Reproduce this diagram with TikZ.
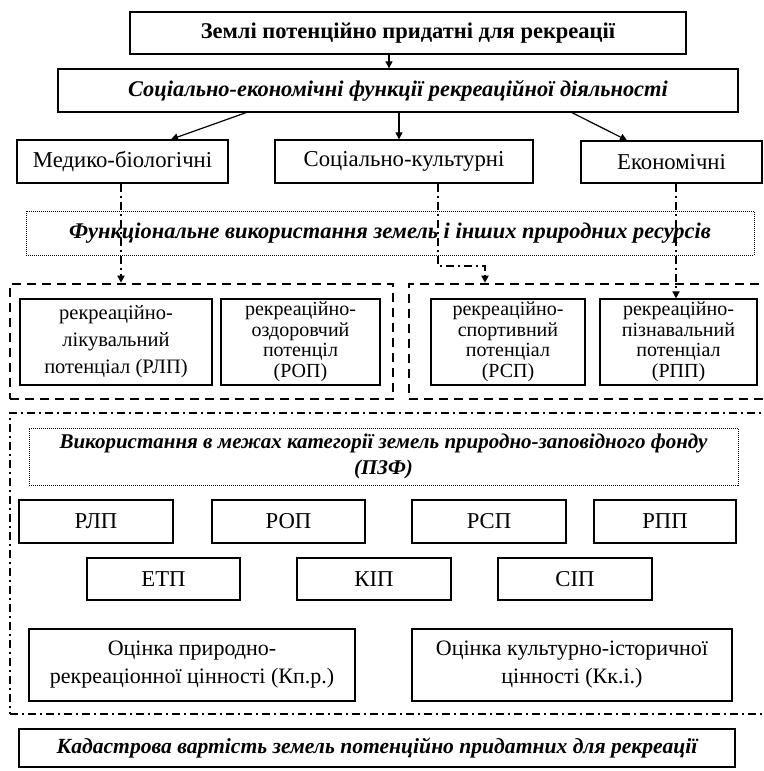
\documentclass[tikz,border=0pt]{standalone}
\usepackage{fontspec}
\setmainfont{Liberation Serif}
\usetikzlibrary{arrows.meta}

\begin{document}
\begin{tikzpicture}[x=1pt, y=-1pt,
  every node/.style={font=\fontsize{22.7}{28}\selectfont, align=center, inner sep=0pt},
  box/.style={draw, line width=1.3pt, minimum height=43pt},
  dotbox/.style={draw, line width=0.8pt, dash pattern=on 1pt off 1pt, minimum height=44pt},
  dashgrp/.style={draw, line width=2.6pt, dash pattern=on 9pt off 6pt},
  dotdashgrp/.style={draw, line width=2.2pt, dash pattern=on 8pt off 4pt on 2pt off 4pt},
  titlefont/.style={font=\fontsize{22.5}{26}\selectfont\bfseries},
  headfont/.style={font=\fontsize{22.4}{26}\selectfont\bfseries\itshape},
  potfont/.style={font=\fontsize{20.5}{27}\selectfont},
  tightfont/.style={font=\fontsize{20}{20.5}\selectfont},
  arr/.style={-{Triangle[length=7pt, width=7pt]}, line width=1.2pt},
  flow/.style={-{Triangle[length=7pt, width=7pt]}, line width=2pt, dash pattern=on 8pt off 4pt on 2pt off 4pt}]
\useasboundingbox (0,0) rectangle (763,771);
\clip (0,0) rectangle (763,771);
% functions
\node[box, titlefont, minimum width=556pt, minimum height=42pt] (land) at (408,33) {Землі потенційно придатні для рекреації};
\node[box, headfont, minimum width=680pt] (func) at (398,90.5) {Соціально-економічні функції рекреаційної діяльності};
\node[box, minimum width=211pt] (med) at (122.5,161.5) {Медико-біологічні};
\node[box, minimum width=258pt] (soc) at (404,161.5) {Соціально-культурні};
\node[box, minimum width=181pt, minimum height=42pt] (eco) at (671.5,162) {Економічні};
\node[dotbox, headfont, minimum width=728pt] (use) at (390,233) {Функціональне використання земель і інших природних ресурсів};
% potentials
\node[dashgrp, minimum width=383pt, minimum height=115pt] (grpL) at (201.5,341.5) {};
\node[dashgrp, minimum width=380pt, minimum height=115pt] (grpR) at (599,341.5) {};
\node[box, potfont, minimum width=192pt, minimum height=86pt] (rlp) at (116,342) {рекреаційно-\\лікувальний\\потенціал (РЛП)};
\node[box, tightfont, minimum width=159pt, minimum height=86pt] (rop) at (300.5,342) {рекреаційно-\\оздоровчий\\потенціл\\(РОП)};
\node[box, tightfont, minimum width=154pt, minimum height=86pt] (rsp) at (508,342) {рекреаційно-\\спортивний\\потенціал\\(РСП)};
\node[box, tightfont, minimum width=157pt, minimum height=86pt] (rpp) at (678.5,342) {рекреаційно-\\пізнавальний\\потенціал\\(РПП)};
% nature reserve fund
\node[dotdashgrp, minimum width=780pt, minimum height=301pt] (grpP) at (400,563.5) {};
\node[dotbox, headfont, font=\fontsize{21}{26}\selectfont\bfseries\itshape, minimum width=709pt, minimum height=57pt] (pzf) at (383.5,456.5) {Використання в межах категорії земель природно-заповідного фонду\\(ПЗФ)};
\node[box, minimum width=154pt] (rlp2) at (96,521.5) {РЛП};
\node[box, minimum width=153pt] (rop2) at (288.5,521.5) {РОП};
\node[box, minimum width=154pt] (rsp2) at (489,521.5) {РСП};
\node[box, minimum width=142pt] (rpp2) at (665,521.5) {РПП};
\node[box, minimum width=153pt, minimum height=42pt] (etp) at (163.5,579) {ЕТП};
\node[box, minimum width=154pt, minimum height=42pt] (kip) at (374,579) {КІП};
\node[box, minimum width=154pt, minimum height=42pt] (sip) at (575,579) {СІП};
\node[box, font=\fontsize{22}{28}\selectfont, minimum width=326pt, minimum height=72pt] (kpr) at (192,665) {Оцінка природно-\\рекреаціонної цінності (Кп.р.)};
\node[box, font=\fontsize{22}{28}\selectfont, minimum width=320pt, minimum height=72pt] (kki) at (572,665) {Оцінка культурно-історичної\\цінності (Кк.і.)};
\node[box, headfont, font=\fontsize{21.6}{26}\selectfont\bfseries\itshape, minimum width=716pt, minimum height=38pt] (cad) at (377,748) {Кадастрова вартість земель потенційно придатних для рекреації};
% arrows
\draw[arr] ([xshift=-19pt]land.south) -- ([xshift=-19pt]land.south |- func.north);
\draw[arr] ([xshift=-152pt]func.south) -- ([xshift=48.5pt]med.north);
\draw[arr] ([xshift=1pt]func.south) -- ([xshift=1pt]func.south |- soc.north);
\draw[arr] ([xshift=174pt]func.south) -- ([xshift=-44.5pt]eco.north);
\draw[flow] ([xshift=-1.5pt]med.south) -- ([xshift=-1.5pt]med.south |- grpL.north);
\draw[flow] ([xshift=34pt]soc.south) -- ++(0,82) -| ([xshift=-114pt]grpR.north);
\draw[flow] ([xshift=4.5pt]eco.south) -- ([xshift=4.5pt]eco.south |- rpp.north);
\end{tikzpicture}
\end{document}
